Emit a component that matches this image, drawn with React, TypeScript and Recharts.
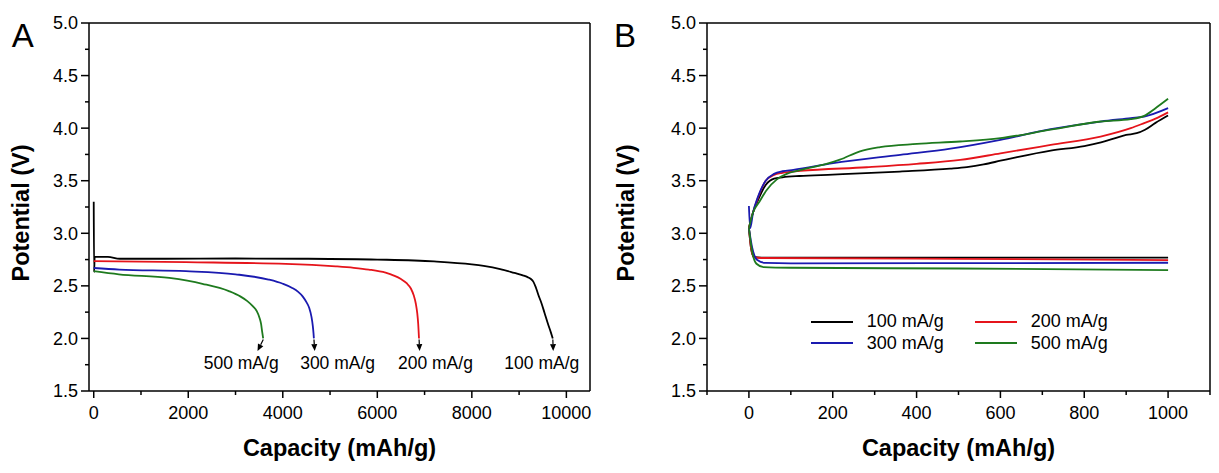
import React from 'react'
import { LineChart, Line, XAxis, YAxis, ReferenceLine, ReferenceDot, Legend } from 'recharts'

const FONT = '"Liberation Sans", Arial, Helvetica, sans-serif'

// series names and colours (same order in both panels)
const RATES = ['100 mA/g', '200 mA/g', '300 mA/g', '500 mA/g']
const COLORS = ['#000000', '#e5141b', '#1a1ab0', '#1e7a1e']

// panel A: full discharge, [capacity (mAh/g), potential (V)]
const dischargeA100: [number, number][] = [
  [0, 3.3], [8, 2.63], [20, 2.775], [300, 2.775], [550, 2.758], [1500, 2.758], [3000, 2.76],
  [4400, 2.758], [6000, 2.75], [7200, 2.733], [8000, 2.705], [8250, 2.69], [8600, 2.66],
  [8900, 2.623], [9080, 2.6], [9180, 2.583], [9250, 2.565], [9300, 2.54], [9350, 2.49],
  [9410, 2.41], [9470, 2.34], [9540, 2.24], [9610, 2.14], [9670, 2.06], [9712, 2.0],
]
const dischargeA200: [number, number][] = [
  [0, 2.735], [1950, 2.725], [4060, 2.71], [5120, 2.686], [5500, 2.672], [5820, 2.655],
  [6175, 2.625], [6350, 2.598], [6500, 2.565], [6620, 2.525], [6710, 2.475], [6770, 2.41],
  [6815, 2.33], [6845, 2.24], [6865, 2.14], [6882, 2.0],
]
const dischargeA300: [number, number][] = [
  [0, 2.67], [540, 2.655], [1950, 2.64], [3000, 2.61], [3700, 2.56], [4000, 2.52],
  [4200, 2.48], [4320, 2.445], [4420, 2.4], [4500, 2.345], [4560, 2.29], [4605, 2.21],
  [4635, 2.12], [4650, 2.05], [4658, 2.0],
]
const dischargeA500: [number, number][] = [
  [0, 2.64], [530, 2.61], [1600, 2.575], [2300, 2.52], [2860, 2.45], [3100, 2.4],
  [3250, 2.355], [3370, 2.305], [3450, 2.26], [3505, 2.2], [3540, 2.14], [3565, 2.06],
  [3585, 2.0],
]

// end-of-discharge arrows [x1, y1, x2, y2] and their labels [capacity, potential]
const arrowsA: [number, number, number, number][] = [
  [3588, 1.99, 3465, 1.88],
  [4660, 1.99, 4675, 1.88],
  [6884, 1.99, 6895, 1.88],
  [9714, 1.99, 9722, 1.88],
]
const labelTextA = ['500 mA/g', '300 mA/g', '200 mA/g', '100 mA/g']
const labelPosA: [number, number][] = [[3120, 1.766], [5160, 1.766], [7230, 1.766], [9480, 1.766]]

// panel B: limited capacity cycling (1000 mAh/g)
const chargeB100: [number, number][] = [
  [0, 3.05], [10, 3.2], [20, 3.3], [40, 3.46], [60, 3.52], [80, 3.532], [120, 3.545],
  [200, 3.558], [360, 3.587], [480, 3.615], [520, 3.63], [560, 3.655], [600, 3.69],
  [640, 3.725], [720, 3.787], [800, 3.83], [840, 3.865], [870, 3.9], [900, 3.935],
  [925, 3.952], [945, 3.985], [970, 4.05], [1000, 4.12],
]
const chargeB200: [number, number][] = [
  [0, 3.05], [10, 3.2], [20, 3.32], [40, 3.5], [60, 3.555], [80, 3.575], [122, 3.593],
  [281, 3.628], [400, 3.66], [504, 3.698], [600, 3.76], [720, 3.84], [839, 3.92],
  [911, 4.0], [943, 4.048], [970, 4.09], [1000, 4.15],
]
const chargeB300: [number, number][] = [
  [0, 3.26], [3, 3.05], [10, 3.2], [20, 3.33], [40, 3.5], [60, 3.565], [80, 3.59],
  [106, 3.603], [201, 3.667], [361, 3.746], [481, 3.805], [600, 3.889], [720, 3.99],
  [839, 4.063], [911, 4.095], [943, 4.11], [1000, 4.19],
]
const chargeB500: [number, number][] = [
  [0, 3.05], [10, 3.2], [25, 3.3], [42, 3.41], [66, 3.51], [90, 3.565], [122, 3.6],
  [185, 3.66], [217, 3.7], [265, 3.78], [313, 3.82], [401, 3.85], [504, 3.873],
  [600, 3.905], [720, 3.985], [839, 4.063], [911, 4.086], [943, 4.117], [970, 4.19],
  [1000, 4.279],
]
const dischargeB100: [number, number][] = [[0, 3.05], [5, 2.86], [12, 2.775], [30, 2.768], [500, 2.768], [1000, 2.768]]
const dischargeB200: [number, number][] = [[0, 3.05], [5, 2.86], [12, 2.772], [30, 2.765], [500, 2.757], [1000, 2.745]]
const dischargeB300: [number, number][] = [[0, 3.05], [8, 2.86], [20, 2.745], [40, 2.718], [100, 2.714], [500, 2.716], [1000, 2.72]]
const dischargeB500: [number, number][] = [[0, 3.05], [8, 2.82], [18, 2.71], [35, 2.678], [100, 2.672], [500, 2.665], [1000, 2.65]]

const yTicks = [1.5, 1.75, 2, 2.25, 2.5, 2.75, 3, 3.25, 3.5, 3.75, 4, 4.25, 4.5, 4.75, 5]
const xTicksA = [0, 1000, 2000, 3000, 4000, 5000, 6000, 7000, 8000, 9000, 10000]
const xTicksB = [-100, 0, 100, 200, 300, 400, 500, 600, 700, 800, 900, 1000, 1100]

const toPts = (rows: [number, number][]) => rows.map(([x, y]) => ({ x, y }))

const TICK = 8
const GAP = 3
const isMult = (v: number, step: number) => Math.abs(v / step - Math.round(v / step)) < 1e-6

const makeXTick = (step: number) => (props: any) => {
  const { x, y, payload } = props
  const v = payload.value
  const major = isMult(v, step)
  const axisY = y - TICK - GAP
  return (
    <g>
      <line x1={x} x2={x} y1={axisY} y2={axisY + (major ? 7 : 4)} stroke="#000" strokeWidth={1.5} />
      {major && (
        <text x={x} y={axisY + 28} textAnchor="middle" fontSize={18} fontFamily={FONT} fill="#000">
          {v}
        </text>
      )}
    </g>
  )
}

const YTick = (props: any) => {
  const { x, y, payload } = props
  const v = payload.value
  const major = isMult(v, 0.5)
  const axisX = x + TICK + GAP
  return (
    <g>
      <line x1={axisX - (major ? 8 : 4)} x2={axisX} y1={y} y2={y} stroke="#000" strokeWidth={1.5} />
      {major && (
        <text x={axisX - 11} y={y} dy="0.36em" textAnchor="end" fontSize={18} fontFamily={FONT} fill="#000">
          {v.toFixed(1)}
        </text>
      )}
    </g>
  )
}

// rotated y title, baseline offset from the left of the axis box
const yTitle = (baseX: number) => (props: any) => {
  const { viewBox } = props
  const x = viewBox.x + baseX
  const y = viewBox.y + viewBox.height / 2 + 6
  return (
    <text x={x} y={y} transform={`rotate(-90 ${x} ${y})`} textAnchor="middle" fontSize={23.5}
      fontWeight="bold" fontFamily={FONT} fill="#000">
      Potential (V)
    </text>
  )
}

const xTitle = {
  value: 'Capacity (mAh/g)',
  position: 'insideBottom' as const,
  offset: 17,
  fill: '#000',
  fontSize: 23.5,
  fontWeight: 'bold',
  fontFamily: FONT,
}

const Arrow = (props: any) => {
  const { x1, y1, x2, y2 } = props
  const a = Math.atan2(y2 - y1, x2 - x1)
  const len = 7
  const w = 3
  const bx = x2 - len * Math.cos(a)
  const by = y2 - len * Math.sin(a)
  const px = -Math.sin(a) * w
  const py = Math.cos(a) * w
  return (
    <g>
      <line x1={x1} y1={y1} x2={bx} y2={by} stroke="#000" strokeWidth={1.2} />
      <polygon points={`${x2},${y2} ${bx + px},${by + py} ${bx - px},${by - py}`} fill="#000" />
    </g>
  )
}

const LegendB = () => (
  <div style={{ display: 'grid', gridTemplateColumns: '164px 164px', fontFamily: FONT }}>
    {RATES.map((name, i) => (
      <div key={name} style={{ display: 'flex', alignItems: 'center', height: 21.6 }}>
        <svg width={42} height={4} style={{ display: 'block' }}>
          <line x1={0} y1={2} x2={42} y2={2} stroke={COLORS[i]} strokeWidth={2} />
        </svg>
        <span style={{ marginLeft: 14, fontSize: 18, lineHeight: '21.6px', color: '#000' }}>{name}</span>
      </div>
    ))}
  </div>
)

const axisLine = { stroke: '#000', strokeWidth: 1.5 }

const panelA = [dischargeA100, dischargeA200, dischargeA300, dischargeA500]
const panelBCharge = [chargeB100, chargeB200, chargeB300, chargeB500]
const panelBDischarge = [dischargeB100, dischargeB200, dischargeB300, dischargeB500]

export default function App() {
  return (
    <div style={{ position: 'absolute', left: 0, top: 0, width: 1219, height: 473, background: '#fff' }}>
      <div style={{ position: 'absolute', left: 0, top: 0 }}>
        <LineChart width={609} height={473} margin={{ top: 23, right: 19, bottom: 0, left: 0 }}>
          <XAxis type="number" dataKey="x" domain={[-100, 10500]} ticks={xTicksA} interval={0}
            tick={makeXTick(2000)} tickLine={false} tickSize={TICK} tickMargin={GAP}
            axisLine={axisLine} height={82} label={xTitle} allowDataOverflow />
          <YAxis type="number" dataKey="y" domain={[1.5, 5]} ticks={yTicks} interval={0}
            tick={YTick} tickLine={false} tickSize={TICK} tickMargin={GAP}
            axisLine={axisLine} width={89} label={{ content: yTitle(28.5) }} allowDataOverflow />
          <ReferenceLine y={5} stroke="#000" strokeWidth={1.5} />
          <ReferenceLine x={10500} stroke="#000" strokeWidth={1.5} />
          {panelA.map((rows, i) => (
            <Line key={RATES[i]} data={toPts(rows)} dataKey="y" type="monotone" stroke={COLORS[i]}
              strokeWidth={1.8} dot={false} activeDot={false} isAnimationActive={false} />
          ))}
          {arrowsA.map(([x1, y1, x2, y2], i) => (
            <ReferenceLine key={`arrow-${i}`} segment={[{ x: x1, y: y1 }, { x: x2, y: y2 }]} shape={Arrow} />
          ))}
          {labelPosA.map(([x, y], i) => (
            <ReferenceDot key={`label-${i}`} x={x} y={y} r={0} fill="none" stroke="none"
              label={{ value: labelTextA[i], position: 'center', fontSize: 17.5, fill: '#000', fontFamily: FONT }} />
          ))}
        </LineChart>
      </div>
      <div style={{ position: 'absolute', left: 609, top: 0 }}>
        <LineChart width={610} height={473} margin={{ top: 23, right: 9, bottom: 0, left: 0 }}>
          <XAxis type="number" dataKey="x" domain={[-100, 1100]} ticks={xTicksB} interval={0}
            tick={makeXTick(200)} tickLine={false} tickSize={TICK} tickMargin={GAP}
            axisLine={axisLine} height={82} label={xTitle} allowDataOverflow />
          <YAxis type="number" dataKey="y" domain={[1.5, 5]} ticks={yTicks} interval={0}
            tick={YTick} tickLine={false} tickSize={TICK} tickMargin={GAP}
            axisLine={axisLine} width={98} label={{ content: yTitle(24.5) }} allowDataOverflow />
          <ReferenceLine y={5} stroke="#000" strokeWidth={1.5} />
          <ReferenceLine x={1100} stroke="#000" strokeWidth={1.5} />
          {panelBDischarge.map((rows, i) => (
            <Line key={`d-${RATES[i]}`} data={toPts(rows)} dataKey="y" type="monotone" stroke={COLORS[i]}
              strokeWidth={1.8} dot={false} activeDot={false} legendType="none" isAnimationActive={false} />
          ))}
          {panelBCharge.map((rows, i) => (
            <Line key={`c-${RATES[i]}`} name={RATES[i]} data={toPts(rows)} dataKey="y" type="monotone"
              stroke={COLORS[i]} strokeWidth={1.8} dot={false} activeDot={false} isAnimationActive={false} />
          ))}
          <Legend layout="vertical" align="center" verticalAlign="middle" content={() => <LegendB />}
            wrapperStyle={{ left: 201.7, top: 311, width: 340 }} />
        </LineChart>
      </div>
      <div style={{ position: 'absolute', left: 11.7, top: 18.7, fontSize: 33, lineHeight: '33px', fontFamily: FONT }}>A</div>
      <div style={{ position: 'absolute', left: 614, top: 18.7, fontSize: 33, lineHeight: '33px', fontFamily: FONT }}>B</div>
    </div>
  )
}
